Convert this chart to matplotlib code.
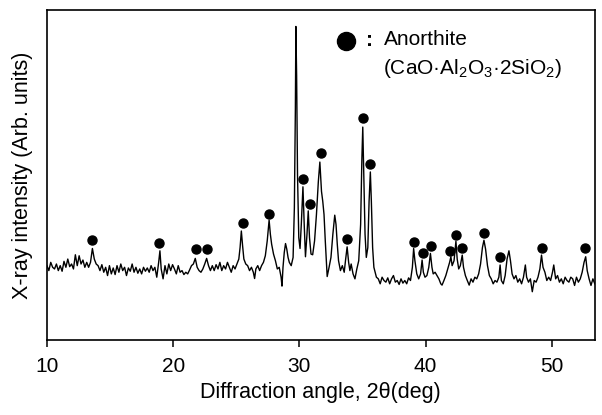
import matplotlib
matplotlib.use("Agg")
import matplotlib.pyplot as plt

plt.rcParams["font.family"] = ["Liberation Sans", "DejaVu Sans"]
plt.rcParams["mathtext.fontset"] = "custom"
plt.rcParams["mathtext.rm"] = "Liberation Sans"
plt.rcParams["mathtext.it"] = "Liberation Sans"

# XRD trace (2theta in deg, intensity in % of axis height)
two_theta = [
    10.0, 10.15, 10.3, 10.45, 10.6, 10.75, 10.9, 11.05, 11.2, 11.35, 11.5, 11.65, 11.8, 11.95,
    12.1, 12.25, 12.4, 12.55, 12.7, 12.85, 13.0, 13.15, 13.3, 13.45, 13.6, 13.75, 13.9, 14.05,
    14.2, 14.35, 14.5, 14.65, 14.8, 14.95, 15.1, 15.25, 15.4, 15.55, 15.7, 15.85, 16.0, 16.15,
    16.3, 16.45, 16.6, 16.75, 16.9, 17.05, 17.2, 17.35, 17.5, 17.65, 17.8, 17.95, 18.1, 18.25,
    18.4, 18.55, 18.7, 18.85, 18.95, 19.05, 19.2, 19.35, 19.5, 19.65, 19.8, 19.95, 20.1, 20.25,
    20.4, 20.55, 20.7, 20.85, 21.0, 21.15, 21.3, 21.45, 21.6, 21.75, 21.9, 22.05, 22.2, 22.35,
    22.5, 22.65, 22.8, 22.95, 23.1, 23.25, 23.4, 23.55, 23.7, 23.85, 24.0, 24.15, 24.3, 24.45,
    24.6, 24.75, 24.9, 25.05, 25.2, 25.3, 25.4, 25.5, 25.6, 25.75, 25.9, 26.05, 26.2, 26.35,
    26.45, 26.55, 26.7, 26.85, 27.0, 27.15, 27.3, 27.45, 27.6, 27.7, 27.8, 27.95, 28.1, 28.25,
    28.4, 28.55, 28.62, 28.7, 28.8, 28.9, 29.0, 29.1, 29.2, 29.35, 29.5, 29.6, 29.68, 29.72,
    29.78, 29.85, 29.95, 30.05, 30.15, 30.28, 30.38, 30.48, 30.6, 30.7, 30.8, 30.92, 31.05, 31.2,
    31.35, 31.5, 31.62, 31.75, 31.85, 31.95, 32.05, 32.2, 32.35, 32.5, 32.65, 32.8, 32.9, 33.0,
    33.1, 33.25, 33.4, 33.55, 33.65, 33.78, 33.9, 34.0, 34.1, 34.25, 34.4, 34.55, 34.7, 34.85,
    34.95, 35.02, 35.1, 35.2, 35.3, 35.42, 35.52, 35.62, 35.7, 35.8, 35.9, 36.0, 36.1, 36.25,
    36.4, 36.55, 36.7, 36.85, 37.0, 37.15, 37.3, 37.45, 37.6, 37.75, 37.9, 38.05, 38.2, 38.35,
    38.5, 38.65, 38.8, 38.95, 39.05, 39.15, 39.3, 39.45, 39.6, 39.72, 39.82, 39.95, 40.1, 40.25,
    40.38, 40.5, 40.6, 40.75, 40.9, 41.05, 41.2, 41.3, 41.45, 41.6, 41.75, 41.9, 42.0, 42.1,
    42.25, 42.4, 42.5, 42.62, 42.75, 42.9, 43.0, 43.15, 43.3, 43.45, 43.6, 43.75, 43.9, 44.05,
    44.2, 44.35, 44.5, 44.62, 44.75, 44.9, 45.05, 45.2, 45.35, 45.5, 45.65, 45.8, 45.9, 46.0,
    46.15, 46.3, 46.45, 46.6, 46.72, 46.85, 47.0, 47.15, 47.3, 47.45, 47.6, 47.75, 47.9, 48.0,
    48.15, 48.3, 48.45, 48.6, 48.75, 48.9, 49.05, 49.18, 49.3, 49.45, 49.6, 49.75, 49.9, 50.05,
    50.15, 50.3, 50.45, 50.6, 50.75, 50.9, 51.05, 51.2, 51.35, 51.5, 51.65, 51.8, 51.95, 52.1,
    52.25, 52.4, 52.55, 52.68, 52.8, 52.95, 53.1, 53.25, 53.4,
]
intensity = [
    22.5, 21.0, 23.5, 22.0, 21.5, 23.0, 21.0, 22.5, 20.8, 23.8, 22.0, 24.5, 22.2, 23.0,
    21.5, 25.8, 22.5, 25.5, 23.0, 24.2, 22.0, 23.5, 22.0, 23.5, 27.7, 24.5, 23.0, 22.5,
    21.0, 22.8, 20.5, 22.0, 19.5, 22.5, 20.0, 21.8, 19.8, 22.5, 20.5, 23.0, 21.0, 22.0,
    19.5, 21.8, 20.8, 23.0, 20.5, 22.0, 20.2, 21.5, 20.0, 22.0, 20.8, 21.8, 20.5, 22.5,
    21.0, 22.0, 19.0, 23.5, 27.0, 21.5, 18.5, 22.5, 20.0, 23.0, 21.0, 22.8, 21.5, 20.0,
    22.5, 20.5, 21.0, 19.8, 20.5, 20.0, 21.2, 22.5, 23.0, 24.7, 22.0, 21.0, 20.5, 21.5,
    23.0, 24.7, 22.5, 21.0, 22.5, 21.0, 22.8, 21.5, 23.5, 21.0, 22.5, 21.5, 23.5, 22.0,
    20.5, 22.5, 21.5, 23.0, 24.5, 28.0, 33.0, 28.5, 24.5, 23.0, 22.5, 21.0, 22.0, 20.5,
    18.6, 21.5, 22.5, 21.0, 22.5, 23.5, 25.5, 30.0, 36.3, 32.0, 29.0, 26.0, 24.0, 21.5,
    22.0, 19.0, 16.3, 22.0, 26.5, 29.2, 27.5, 25.0, 23.5, 22.5, 25.0, 40.0, 70.0, 95.0,
    80.0, 50.0, 31.0, 27.7, 35.0, 46.4, 35.0, 25.2, 32.0, 39.1, 31.0, 26.0, 25.8, 30.0,
    38.0, 48.0, 53.9, 45.0, 42.0, 38.0, 30.0, 19.2, 22.0, 25.0, 32.0, 37.8, 35.0, 29.0,
    24.0, 21.0, 22.5, 20.5, 24.0, 28.2, 23.5, 21.0, 23.0, 20.0, 18.5, 21.5, 24.0, 35.0,
    55.0, 64.5, 50.0, 32.0, 25.0, 28.0, 42.0, 50.9, 42.0, 28.0, 22.0, 20.5, 19.0, 18.5,
    17.0, 19.0, 18.0, 17.5, 18.8, 17.0, 18.5, 19.5, 17.5, 18.0, 16.8, 18.5, 17.2, 18.0,
    17.0, 18.8, 18.0, 22.0, 27.7, 24.0, 20.0, 18.5, 20.0, 24.2, 20.5, 19.0, 19.5, 22.0,
    26.2, 22.0, 20.0, 20.5, 19.5, 18.5, 17.0, 16.6, 18.0, 19.5, 21.5, 23.5, 25.2, 22.5,
    24.0, 29.9, 24.5, 21.5, 22.5, 25.7, 22.0, 19.5, 18.0, 16.6, 18.5, 17.5, 19.0, 18.5,
    20.0, 23.0, 28.0, 30.2, 27.5, 22.5, 19.5, 18.5, 17.0, 18.0, 17.5, 19.0, 22.7, 18.0,
    17.0, 19.5, 24.5, 27.0, 24.0, 20.0, 18.5, 19.5, 17.5, 18.5, 17.0, 19.0, 22.7, 19.0,
    17.5, 18.5, 14.6, 18.0, 17.5, 19.0, 21.5, 25.7, 22.0, 20.5, 18.0, 19.0, 18.0, 20.5,
    22.7, 18.5, 19.5, 17.5, 18.5, 17.0, 19.0, 18.0, 17.5, 19.0, 18.5, 16.5, 19.0, 17.5,
    18.5, 20.5, 23.5, 25.2, 21.0, 18.5, 16.5, 18.5, 17.0,
]

# anorthite markers above the peaks
mark_theta = [13.6, 18.9, 21.8, 22.7, 25.5, 27.6, 30.3, 30.8, 31.7, 33.8, 35.0,
              35.6, 39.1, 39.8, 40.4, 41.9, 42.4, 42.9, 44.6, 45.9, 49.2, 52.6]
mark_height = [30.2, 29.4, 27.4, 27.4, 35.5, 38.3, 48.9, 41.1, 56.5, 30.6, 67.3,
               53.4, 29.8, 26.3, 28.5, 26.8, 31.7, 27.9, 32.5, 25.0, 27.9, 27.7]

fig = plt.figure(figsize=(6.02, 4.15), dpi=100)
ax = fig.add_axes([0.078, 0.181, 0.910, 0.795])

ax.plot(two_theta, intensity, color="black", lw=1.0)
ax.plot(mark_theta, mark_height, "o", color="black", ms=6.5, ls="none")

ax.set_xlim(10, 53.4)
ax.set_ylim(0, 100)
ax.set_xticks([10, 20, 30, 40, 50])
ax.set_yticks([])
ax.tick_params(axis="x", direction="out", length=5, width=1.1, labelsize=15, pad=7)
for s in ax.spines.values():
    s.set_linewidth(1.2)

ax.set_xlabel("Diffraction angle, 2\u03b8(deg)", fontsize=15.5, labelpad=5)
ax.set_ylabel("X-ray intensity (Arb. units)", fontsize=15.5, labelpad=10)

# legend drawn as text like the original
ax.plot([0.545], [0.906], "o", color="black", ms=13, transform=ax.transAxes, clip_on=False)
ax.text(0.589, 0.906, ":", fontsize=15, fontweight="bold", va="center", ha="center",
        transform=ax.transAxes)
ax.text(0.615, 0.909, "Anorthite", fontsize=15, va="center", transform=ax.transAxes)
ax.text(0.613, 0.822, "(CaO\u00b7Al$_2$O$_3$\u00b72SiO$_2$)", fontsize=15, va="center",
        transform=ax.transAxes)

fig.savefig("out.png", dpi=100)
